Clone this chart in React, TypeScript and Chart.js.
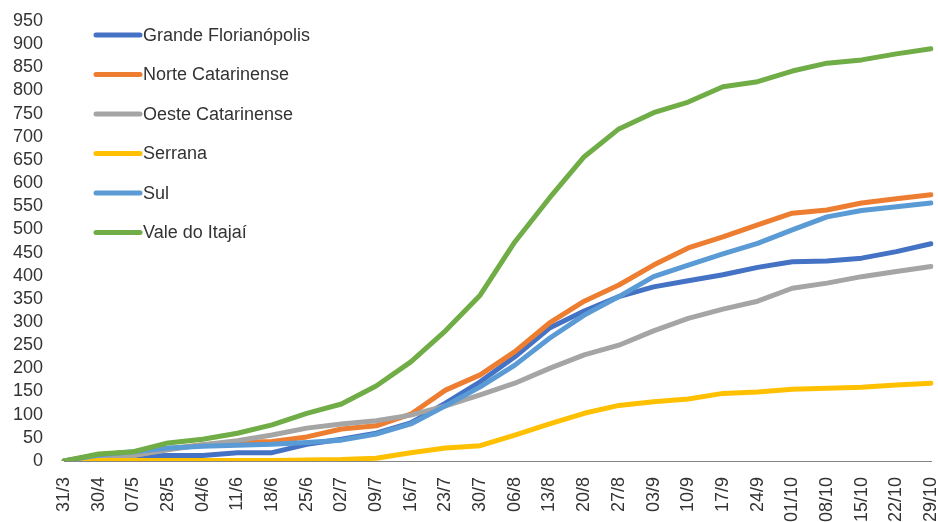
import React, { useEffect, useRef } from 'react';
import { Chart, registerables } from 'chart.js';

Chart.register(...registerables);

// Weekly reference dates (x axis)
const weeks = [
  '31/3', '30/4', '07/5', '28/5', '04/6', '11/6', '18/6', '25/6', '02/7', '09/7',
  '16/7', '23/7', '30/7', '06/8', '13/8', '20/8', '27/8', '03/9', '10/9', '17/9',
  '24/9', '01/10', '08/10', '15/10', '22/10', '29/10',
];

// Cumulative totals per macro-region
const grandeFlorianopolis = [0, 9, 10, 12, 12, 18, 18, 36, 47, 60, 82, 125, 171, 225, 287, 324, 355, 376, 389, 402, 418, 430, 432, 438, 452, 469];
const norteCatarinense = [0, 12, 12, 26, 35, 40, 42, 52, 69, 76, 101, 153, 186, 236, 298, 345, 380, 423, 460, 484, 510, 535, 542, 557, 566, 575];
const oesteCatarinense = [0, 9, 12, 24, 35, 44, 56, 71, 80, 87, 99, 119, 143, 168, 200, 229, 250, 281, 308, 328, 345, 373, 384, 398, 409, 420];
const serrana = [0, 1, 1, 1, 1, 1, 1, 2, 3, 6, 18, 28, 33, 56, 80, 103, 120, 128, 134, 146, 149, 155, 157, 159, 164, 168];
const sul = [0, 13, 20, 28, 32, 34, 36, 40, 45, 58, 80, 119, 160, 207, 265, 315, 355, 398, 423, 447, 470, 499, 527, 541, 549, 557];
const valeDoItajai = [0, 15, 20, 39, 47, 60, 78, 103, 123, 162, 214, 281, 358, 473, 568, 657, 717, 752, 775, 808, 819, 842, 859, 866, 879, 890];

const regionNames = [
  'Grande Florianópolis',
  'Norte Catarinense',
  'Oeste Catarinense',
  'Serrana',
  'Sul',
  'Vale do Itajaí',
];
const regionSeries = [grandeFlorianopolis, norteCatarinense, oesteCatarinense, serrana, sul, valeDoItajai];
const regionColors = ['#4472C4', '#ED7D31', '#A5A5A5', '#FFC000', '#5B9BD5', '#70AD47'];

const TEXT_COLOR = '#333333';
const FONT_FAMILY = '"Liberation Sans", Arial, sans-serif';

// Vertical legend drawn inside the plot, top-left
const insetLegend = {
  id: 'insetLegend',
  afterDatasetsDraw(chart: any) {
    const { ctx } = chart;
    ctx.save();
    chart.data.datasets.forEach((ds: any, i: number) => {
      const y = 35 + i * 39.5;
      ctx.strokeStyle = ds.borderColor;
      ctx.lineWidth = 5;
      ctx.lineCap = 'round';
      ctx.beginPath();
      ctx.moveTo(96, y);
      ctx.lineTo(140, y);
      ctx.stroke();
      ctx.fillStyle = TEXT_COLOR;
      ctx.font = `18px ${FONT_FAMILY}`;
      ctx.textBaseline = 'middle';
      ctx.textAlign = 'left';
      ctx.fillText(ds.label, 143, y + 1);
    });
    ctx.restore();
  },
};

export default function App() {
  const canvasRef = useRef<HTMLCanvasElement | null>(null);

  useEffect(() => {
    if (!canvasRef.current) return;
    const chart = new Chart(canvasRef.current, {
      type: 'line',
      data: {
        labels: weeks,
        datasets: regionNames.map((name, i) => ({
          label: name,
          data: regionSeries[i],
          borderColor: regionColors[i],
          backgroundColor: regionColors[i],
          borderWidth: 5,
          pointRadius: 0,
          pointHoverRadius: 0,
          tension: 0,
          borderJoinStyle: 'round' as const,
          borderCapStyle: 'round' as const,
          order: regionNames.length - i,
        })),
      },
      options: {
        animation: false,
        responsive: true,
        maintainAspectRatio: false,
        layout: { padding: { top: 21, right: 7, left: 0, bottom: 0 } },
        plugins: {
          legend: { display: false },
          tooltip: { enabled: false },
        },
        scales: {
          x: {
            type: 'category',
            offset: false,
            grid: { display: false, drawTicks: false },
            border: { display: true, color: '#868686', width: 1 },
            ticks: {
              autoSkip: false,
              minRotation: 90,
              maxRotation: 90,
              padding: 16,
              color: TEXT_COLOR,
              font: { family: FONT_FAMILY, size: 18 },
            },
            afterFit(scale: any) {
              scale.height = 61;
              scale.paddingLeft = 0;
              scale.paddingRight = 7;
            },
          },
          y: {
            min: 0,
            max: 950,
            grid: { display: false, drawTicks: false },
            border: { display: false },
            ticks: {
              stepSize: 50,
              autoSkip: false,
              padding: 21,
              color: TEXT_COLOR,
              font: { family: FONT_FAMILY, size: 18 },
            },
            afterFit(scale: any) {
              scale.width = 64;
              scale.paddingTop = 0;
              scale.paddingBottom = 0;
            },
          },
        },
      },
      plugins: [insetLegend],
    });
    return () => chart.destroy();
  }, []);

  return (
    <div
      style={{
        position: 'fixed',
        left: 0,
        top: 0,
        width: 938,
        height: 522,
        background: '#ffffff',
        overflow: 'hidden',
      }}
    >
      <canvas ref={canvasRef} />
    </div>
  );
}
